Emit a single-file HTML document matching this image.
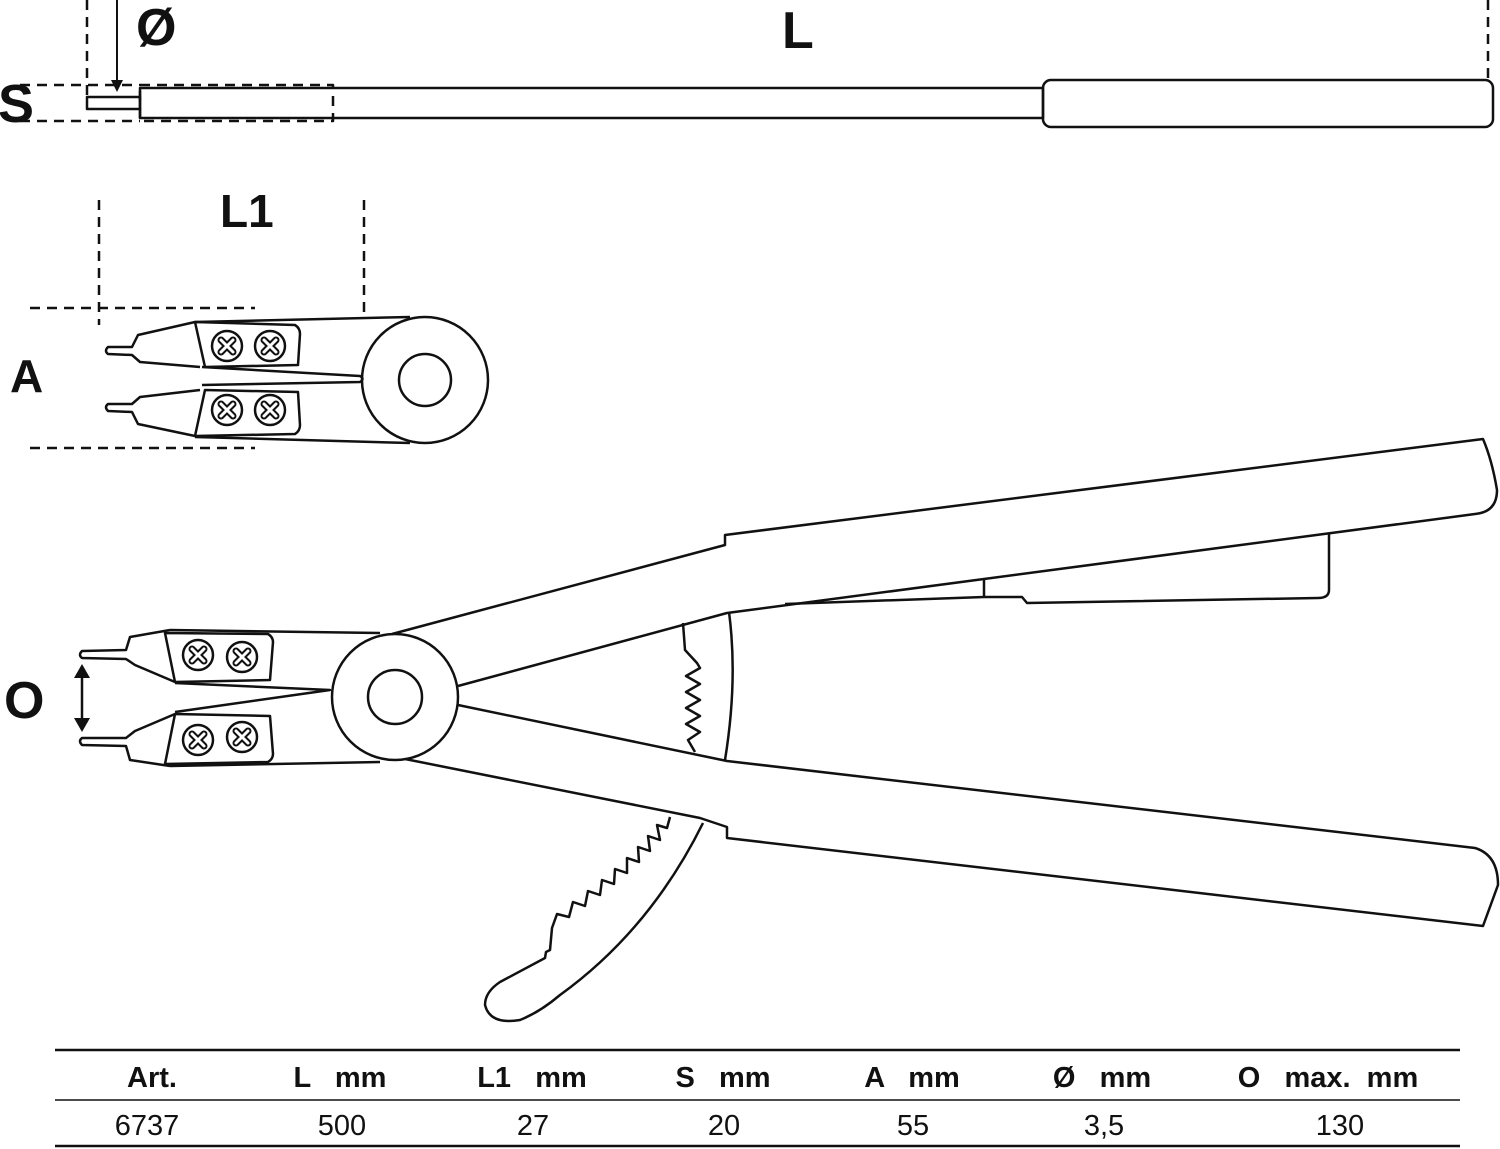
<!DOCTYPE html>
<html><head><meta charset="utf-8"><style>
html,body{margin:0;padding:0;background:#fff}
svg{display:block}
text{font-family:"Liberation Sans",sans-serif;white-space:pre}
</style></head><body>
<svg width="1500" height="1149" viewBox="0 0 1500 1149" xmlns="http://www.w3.org/2000/svg">
<defs>
<g id="scr"><circle r="15" fill="#fff" stroke="#111" stroke-width="2.5"/>
<path d="M-6 -6 L6 6 M6 -6 L-6 6" stroke="#111" stroke-width="7" stroke-linecap="round"/>
<path d="M-6 -6 L6 6 M6 -6 L-6 6" stroke="#fff" stroke-width="3" stroke-linecap="round"/></g>
</defs>
<g fill="none" stroke="#111" stroke-width="2.5" stroke-linejoin="round">
<line x1="87" y1="0" x2="87" y2="100" stroke-dasharray="10,7"/>
<line x1="1488" y1="0" x2="1488" y2="78" stroke-dasharray="10,7"/>
<line x1="20" y1="85" x2="140" y2="85" stroke-dasharray="10,7"/>
<line x1="20" y1="121" x2="140" y2="121" stroke-dasharray="10,7"/>
<rect x="140" y="85" width="193" height="36" stroke-dasharray="10,7"/>
<rect x="87" y="97" width="53" height="12"/>
<rect x="140" y="88" width="903" height="30"/>
<rect x="1043" y="80" width="450" height="47" rx="8"/>
<line x1="117" y1="0" x2="117" y2="84" stroke-width="2"/>
<line x1="99" y1="200" x2="99" y2="325" stroke-dasharray="10,7"/>
<line x1="364" y1="200" x2="364" y2="312" stroke-dasharray="10,7"/>
<line x1="30" y1="308" x2="255" y2="308" stroke-dasharray="10,7"/>
<line x1="30" y1="448" x2="255" y2="448" stroke-dasharray="10,7"/>
<path d="M195 322 L410 317"/>
<path d="M195 437 L410 443"/>
<circle cx="425" cy="380" r="63" fill="#fff"/>
<circle cx="425" cy="380" r="26"/>
<path d="M195 322 L138 335 L132 347 L108 347 Q104 351 108 354 L132 355 L140 362 L200 367"/>
<path d="M195 436 L138 424 L132 412 L108 411 Q104 407 108 404 L132 404 L140 397 L200 390"/>
<path d="M202 367 L360 376 Q365 379 360 382 L202 385"/>
<path d="M195 322 L295 325 Q300 328 300 334 L298 365 L205 367 Z"/>
<path d="M195 436 L295 434 Q300 431 300 425 L298 392 L205 390 Z"/>
<path d="M392 634 L725 545 L725 535 L1483 439 Q1492 460 1497 490 Q1497 512 1475 514 L727 613 L458 686"/>
<path d="M1329 533 L1329 590 Q1329 598 1318 598 L1027 603 L1022 597 L984 597 L785 604"/>
<line x1="984" y1="579" x2="984" y2="597"/>
<path d="M458 705 L727 761 L1475 848 Q1498 855 1498 885 L1483 926 L727 838 L727 827 L700 818 L400 758"/>
<path d="M683 623 L685 650 L697 663 L700 668 L686 676 L700 684 L686 692 L700 700 L686 708 L700 716 L686 724 L700 732 L688 740 L695 752"/>
<path d="M729 612 Q738 680 725 760"/>
<path d="M670 817 L667 828 L657 825 L660 840 L648 836 L650 851 L638 847 L639 862 L627 858 L627 873 L615 869 L614 884 L602 880 L600 895 L588 891 L585 906 L573 902 L569 917 L557 914 L552 928 L550 950 L546 952 L545 958 L500 982 Q485 992 485 1005 Q490 1025 520 1020 Q540 1012 560 995 Q650 930 703 823"/>
<circle cx="395" cy="697" r="63" fill="#fff"/>
<circle cx="395" cy="697" r="27"/>
<path d="M170 630 L380 633"/>
<path d="M170 766 L380 762"/>
<path d="M170 630 L130 637 L126 650 L82 651 Q78 655 82 658 L126 659 L135 665 L175 682"/>
<path d="M170 766 L130 760 L126 746 L82 745 Q78 741 82 738 L126 738 L135 731 L175 714"/>
<path d="M175 683 L330 690 L175 712"/>
<path d="M165 633 L268 634 Q273 637 273 642 L270 680 L175 682 Z"/>
<path d="M165 764 L268 762 Q273 759 273 754 L270 716 L175 714 Z"/>
<line x1="82" y1="672" x2="82" y2="722"/>
</g>
<use href="#scr" x="227" y="346"/><use href="#scr" x="270" y="346"/>
<use href="#scr" x="227" y="410"/><use href="#scr" x="270" y="410"/>
<use href="#scr" x="198" y="655"/><use href="#scr" x="242" y="657"/>
<use href="#scr" x="198" y="740"/><use href="#scr" x="242" y="737"/>
<g fill="#111">
<path d="M117 92 L111 80 L123 80 Z"/>
<path d="M82 664 L74 678 L90 678 Z"/>
<path d="M82 732 L74 718 L90 718 Z"/>
</g>
<g font-weight="bold" fill="#111">
<text x="-2" y="122" font-size="54">S</text>
<text x="136" y="45" font-size="52">Ø</text>
<text x="782" y="48" font-size="52">L</text>
<text x="220" y="227" font-size="46">L1</text>
<text x="10" y="392" font-size="46">A</text>
<text x="4" y="718" font-size="52">O</text>
</g>
<line x1="55" y1="1050" x2="1460" y2="1050" stroke="#111" stroke-width="2.5"/>
<line x1="55" y1="1100" x2="1460" y2="1100" stroke="#111" stroke-width="1.5"/>
<line x1="55" y1="1146" x2="1460" y2="1146" stroke="#111" stroke-width="2.5"/>
<g font-size="29" text-anchor="middle" fill="#111">
<g font-weight="bold">
<text x="152" y="1087">Art.</text>
<text x="340" y="1087">L   mm</text>
<text x="532" y="1087">L1   mm</text>
<text x="723" y="1087">S   mm</text>
<text x="912" y="1087">A   mm</text>
<text x="1102" y="1087">Ø   mm</text>
<text x="1328" y="1087">O   max.  mm</text>
</g>
<text x="147" y="1135">6737</text>
<text x="342" y="1135">500</text>
<text x="533" y="1135">27</text>
<text x="724" y="1135">20</text>
<text x="913" y="1135">55</text>
<text x="1104" y="1135">3,5</text>
<text x="1340" y="1135">130</text>
</g>
</svg>
</body></html>
